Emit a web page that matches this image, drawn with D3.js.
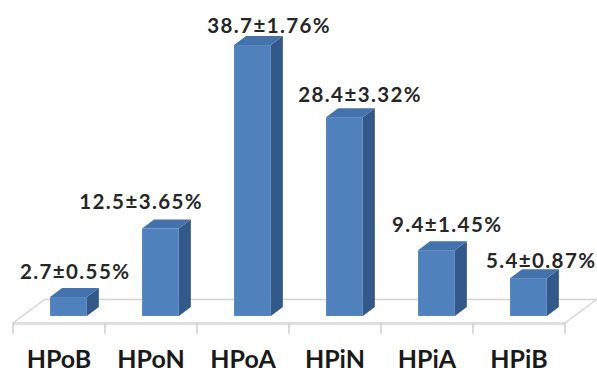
<!DOCTYPE html>
<html>
<head>
<meta charset="utf-8">
<script src="https://cdn.jsdelivr.net/npm/d3@7"></script>
<style>
  html, body { margin: 0; padding: 0; background: #fff; }
  svg { display: block; }
</style>
</head>
<body>
<svg id="chart" width="597" height="374"></svg>
<script>
// Fraction types and their mean share (%) with standard deviation
const categories = ["HPoB", "HPoN", "HPoA", "HPiN", "HPiA", "HPiB"];
const means = [2.7, 12.5, 38.7, 28.4, 9.4, 5.4];
const sds = [0.55, 3.65, 1.76, 3.32, 1.45, 0.87];

// Hand-placed nudges for the value labels (px)
const labelDx = [0, -26, 10, 9, 4, 6];
const labelDy = [0, -1, 6, 3, 0, 8];

const svg = d3.select("#chart");

// Floor geometry (front edge + receding depth)
const floorFrontY = 323;
const floorDepth = { dx: 31.5, dy: -23.5 };
const barDepthPos = 0.3;          // where the bar front sits inside the floor depth
const barDepth = { dx: 12, dy: -9 };

const x = d3.scaleBand()
  .domain(categories)
  .range([13, 565])
  .paddingInner(0.6)
  .paddingOuter(0.3);

const baseY = floorFrontY + floorDepth.dy * barDepthPos;   // bar bottom on screen
const shiftX = floorDepth.dx * barDepthPos;

const y = d3.scaleLinear().domain([0, 40]).range([baseY, baseY - 280]);

// Floor plane
const [fx0, fx1] = x.range();
const floor = [
  [fx0, floorFrontY],
  [fx1, floorFrontY],
  [fx1 + floorDepth.dx, floorFrontY + floorDepth.dy],
  [fx0 + floorDepth.dx, floorFrontY + floorDepth.dy]
];
svg.append("polygon")
  .attr("points", floor.map(p => p.join(",")).join(" "))
  .attr("fill", "#fff")
  .attr("stroke", "#d4d4d4")
  .attr("stroke-width", 1.5)
  .attr("stroke-linejoin", "round");
svg.append("line")
  .attr("x1", fx0).attr("x2", fx1)
  .attr("y1", floorFrontY + 1.5).attr("y2", floorFrontY + 1.5)
  .attr("stroke", "#e4e4e4").attr("stroke-width", 1.5);

// Category boundary ticks under the floor front edge
const tickXs = d3.range(categories.length + 1).map(i => fx0 + (fx1 - fx0) * i / categories.length);
svg.append("g").selectAll("line")
  .data(tickXs)
  .join("line")
  .attr("x1", d => d).attr("x2", d => d)
  .attr("y1", floorFrontY).attr("y2", floorFrontY + 11)
  .attr("stroke", "#cfcfcf")
  .attr("stroke-width", 1.5);

// 3D bars: front, side and top faces
const colFront = "#4f81bd", colSide = "#33588a", colTop = "#4372ad";
const rows = categories.map((c, i) => ({ c, v: means[i], sd: sds[i], i }));

const bars = svg.append("g").selectAll("g")
  .data(rows)
  .join("g");

bars.each(function(d) {
  const g = d3.select(this);
  const x0 = x(d.c) + shiftX, x1 = x0 + x.bandwidth();
  const yt = y(d.v), yb = y(0);
  const dx = barDepth.dx, dy = barDepth.dy;
  // side face
  g.append("polygon")
    .attr("points", [[x1, yb], [x1 + dx, yb + dy], [x1 + dx, yt + dy], [x1, yt]].map(p => p.join(",")).join(" "))
    .attr("fill", colSide);
  // top face
  g.append("polygon")
    .attr("points", [[x0, yt], [x1, yt], [x1 + dx, yt + dy], [x0 + dx, yt + dy]].map(p => p.join(",")).join(" "))
    .attr("fill", colTop);
  // front face
  g.append("rect")
    .attr("x", x0).attr("y", yt)
    .attr("width", x1 - x0).attr("height", yb - yt)
    .attr("fill", colFront);
});

// Value labels: mean ± sd
const valueSpacing = 1.4;
svg.append("g").selectAll("text")
  .data(rows)
  .join("text")
  .attr("x", d => x(d.c) + shiftX + (x.bandwidth() + barDepth.dx) / 2 + labelDx[d.i] + valueSpacing / 2)
  .attr("y", d => y(d.v) + barDepth.dy - 9 + labelDy[d.i])
  .attr("text-anchor", "middle")
  .attr("font-family", "Lato, 'Open Sans', sans-serif")
  .attr("font-weight", "bold")
  .attr("font-size", 20.5)
  .attr("letter-spacing", valueSpacing)
  .attr("fill", "#262626")
  .text(d => `${d.v.toFixed(1)}±${d.sd.toFixed(2)}%`);

// Category labels below the floor
svg.append("g").selectAll("text")
  .data(categories)
  .join("text")
  .attr("x", (d, i) => fx0 + (fx1 - fx0) * (i + 0.5) / categories.length)
  .attr("y", 368)
  .attr("text-anchor", "middle")
  .attr("font-family", "Lato, 'Open Sans', sans-serif")
  .attr("font-weight", "bold")
  .attr("font-size", 25)
  .attr("fill", "#1a1a1a")
  .text(d => d);
</script>
</body>
</html>
